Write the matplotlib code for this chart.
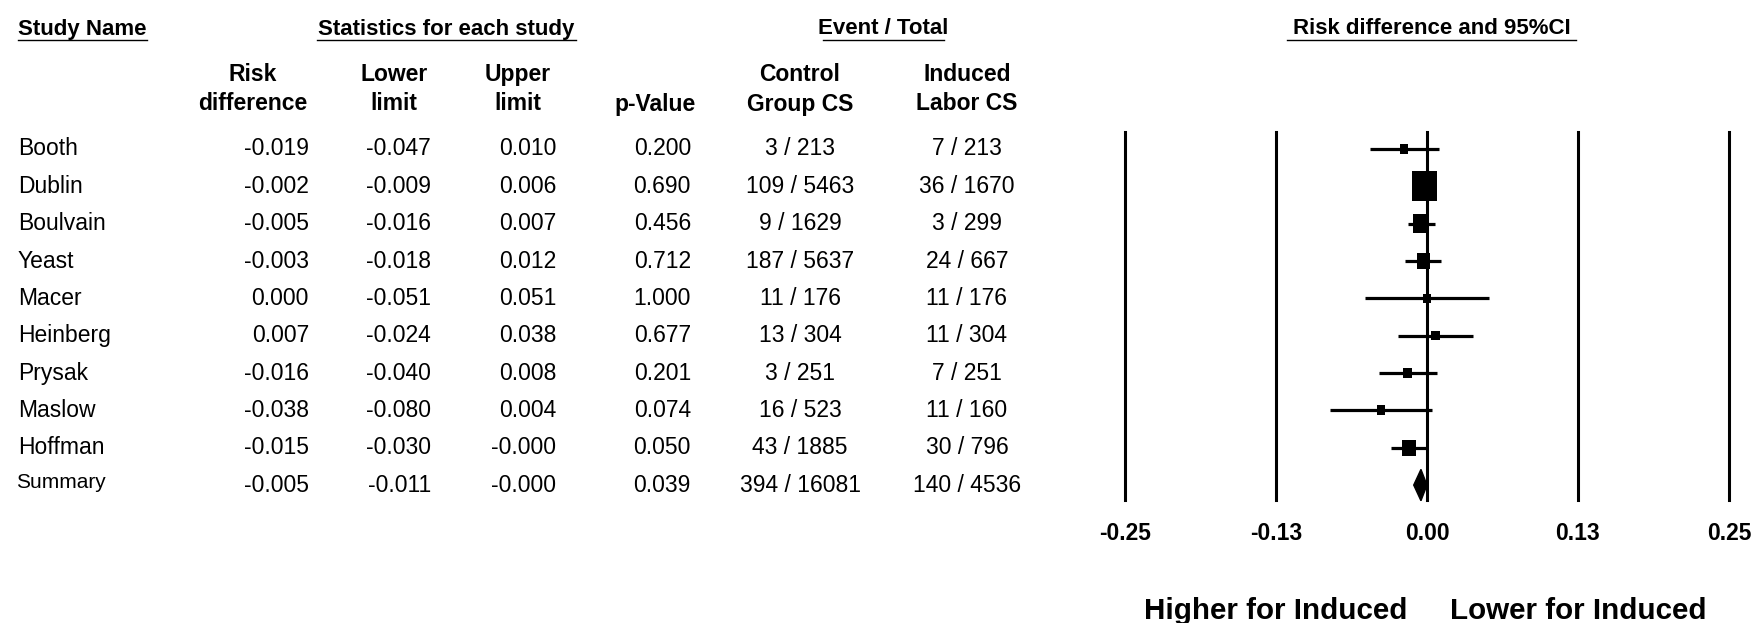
import matplotlib
matplotlib.use("Agg")
from matplotlib import pyplot as plt
from matplotlib import transforms
from matplotlib.lines import Line2D

# data
studies = ['Booth', 'Dublin', 'Boulvain', 'Yeast', 'Macer', 'Heinberg', 'Prysak', 'Maslow', 'Hoffman']
risk_diff = [-0.019, -0.002, -0.005, -0.003, 0.000, 0.007, -0.016, -0.038, -0.015]
lower = [-0.047, -0.009, -0.016, -0.018, -0.051, -0.024, -0.040, -0.080, -0.030]
upper = [0.010, 0.006, 0.007, 0.012, 0.051, 0.038, 0.008, 0.004, -0.0]
p_values = [0.200, 0.690, 0.456, 0.712, 1.000, 0.677, 0.201, 0.074, 0.050]
ctrl_events = [3, 109, 9, 187, 11, 13, 3, 16, 43]
ctrl_total = [213, 5463, 1629, 5637, 176, 304, 251, 523, 1885]
ind_events = [7, 36, 3, 24, 11, 11, 7, 11, 30]
ind_total = [213, 1670, 299, 667, 176, 304, 251, 160, 796]
weights = [4.0, 40.3, 17.2, 10.8, 3.7, 4.0, 4.5, 4.3, 11.1]  # relative box size

summary = {'rd': -0.005, 'lo': -0.011, 'hi': -0.0, 'p': 0.039,
           'ce': 394, 'ct': 16081, 'ie': 140, 'it': 4536}

ticks = [-0.25, -0.125, 0.0, 0.125, 0.25]
tick_labels = ['-0.25', '-0.13', '0.00', '0.13', '0.25']

W, H = 1755, 623
fig = plt.figure(figsize=(W / 100, H / 100), dpi=100)

hdr = dict(family=['Liberation Sans', 'DejaVu Sans'], fontweight='bold')
body = dict(family=['Liberation Sans', 'DejaVu Sans'])

def fx(px):
    return px / W

def fy(px):
    return 1 - px / H

# forest plot axes
ax = fig.add_axes([fx(1125), fy(500), fx(1729) - fx(1125), (500 - 132) / H])
ax.set_xlim(-0.25, 0.25)
ax.set_ylim(9.40, -0.455)
for s in ax.spines.values():
    s.set_visible(False)
ax.set_yticks([])
ax.set_xticks([])
for t in ticks:
    ax.axvline(t, color='black', lw=2.2, clip_on=False)

rows = list(range(len(studies)))
ax.hlines(rows, lower, upper, color='black', lw=2.3)
box = [(-0.43, -0.5), (0.43, -0.5), (0.43, 0.5), (-0.43, 0.5), (-0.43, -0.5)]
ax.scatter(risk_diff, rows, s=[w * 11.5 for w in weights], marker=box,
           color='black', zorder=3, linewidths=0)

ys = len(studies)
ax.fill([summary['lo'], summary['rd'], summary['hi'], summary['rd']],
        [ys, ys - 0.42, ys, ys + 0.42], color='black', zorder=3, clip_on=False)

# tick labels and direction labels
bt = transforms.blended_transform_factory(ax.transData, fig.transFigure)
for t, lab in zip(ticks, tick_labels):
    ax.text(t, fy(534), lab, transform=bt, ha='center', va='center', fontsize=16.5, **hdr)
ax.text(-0.125, fy(611), 'Higher for Induced', transform=bt, ha='center', va='center',
        fontsize=21.3, **hdr)
ax.text(0.125, fy(611), 'Lower for Induced', transform=bt, ha='center', va='center',
        fontsize=21.3, **hdr)

# group headers with underline
groups = [('Study Name', 18, 147, 'left'),
          ('Statistics for each study', 317, 576, 'center'),
          ('Event / Total', 823, 944, 'center'),
          ('Risk difference and 95%CI', 1287, 1576, 'center')]
for txt, x0, x1, ha in groups:
    xt = x0 if ha == 'left' else (x0 + x1) / 2
    fig.text(fx(xt), fy(29), txt, ha=ha, va='center', fontsize=16, **hdr)
    fig.add_artist(Line2D([fx(x0), fx(x1)], [fy(40), fy(40)], color='black', lw=1.0))

# column headers
col_heads = [('Risk\ndifference', 253), ('Lower\nlimit', 394), ('Upper\nlimit', 518),
             ('p-Value', 655), ('Control\nGroup CS', 800), ('Induced\nLabor CS', 967)]
for txt, x in col_heads:
    fig.text(fx(x), fy(115.5), txt, ha='center', va='bottom', fontsize=16.5,
             linespacing=1.38, **hdr)

# table body
tt = transforms.blended_transform_factory(fig.transFigure, ax.transData)
fs = 16.5
for i, name in enumerate(studies):
    ax.text(fx(18), i, name, transform=tt, ha='left', va='center', fontsize=fs, **body)
    ax.text(fx(309), i, f'{risk_diff[i]:.3f}', transform=tt, ha='right', va='center', fontsize=fs, **body)
    ax.text(fx(431), i, f'{lower[i]:.3f}', transform=tt, ha='right', va='center', fontsize=fs, **body)
    ax.text(fx(556), i, f'{upper[i]:.3f}', transform=tt, ha='right', va='center', fontsize=fs, **body)
    ax.text(fx(691), i, f'{p_values[i]:.3f}', transform=tt, ha='right', va='center', fontsize=fs, **body)
    ax.text(fx(800), i, f'{ctrl_events[i]} / {ctrl_total[i]}', transform=tt, ha='center',
            va='center', fontsize=fs, **body)
    ax.text(fx(967), i, f'{ind_events[i]} / {ind_total[i]}', transform=tt, ha='center',
            va='center', fontsize=fs, **body)

ax.text(fx(16), ys - 0.07, 'Summary', transform=tt, ha='left', va='center', fontsize=15, **body)
ax.text(fx(309), ys, f"{summary['rd']:.3f}", transform=tt, ha='right', va='center', fontsize=fs, **body)
ax.text(fx(431), ys, f"{summary['lo']:.3f}", transform=tt, ha='right', va='center', fontsize=fs, **body)
ax.text(fx(556), ys, f"{summary['hi']:.3f}", transform=tt, ha='right', va='center', fontsize=fs, **body)
ax.text(fx(691), ys, f"{summary['p']:.3f}", transform=tt, ha='right', va='center', fontsize=fs, **body)
ax.text(fx(800), ys, f"{summary['ce']} / {summary['ct']}", transform=tt, ha='center',
        va='center', fontsize=fs, **body)
ax.text(fx(967), ys, f"{summary['ie']} / {summary['it']}", transform=tt, ha='center',
        va='center', fontsize=fs, **body)

fig.savefig('out.png', dpi=100)
